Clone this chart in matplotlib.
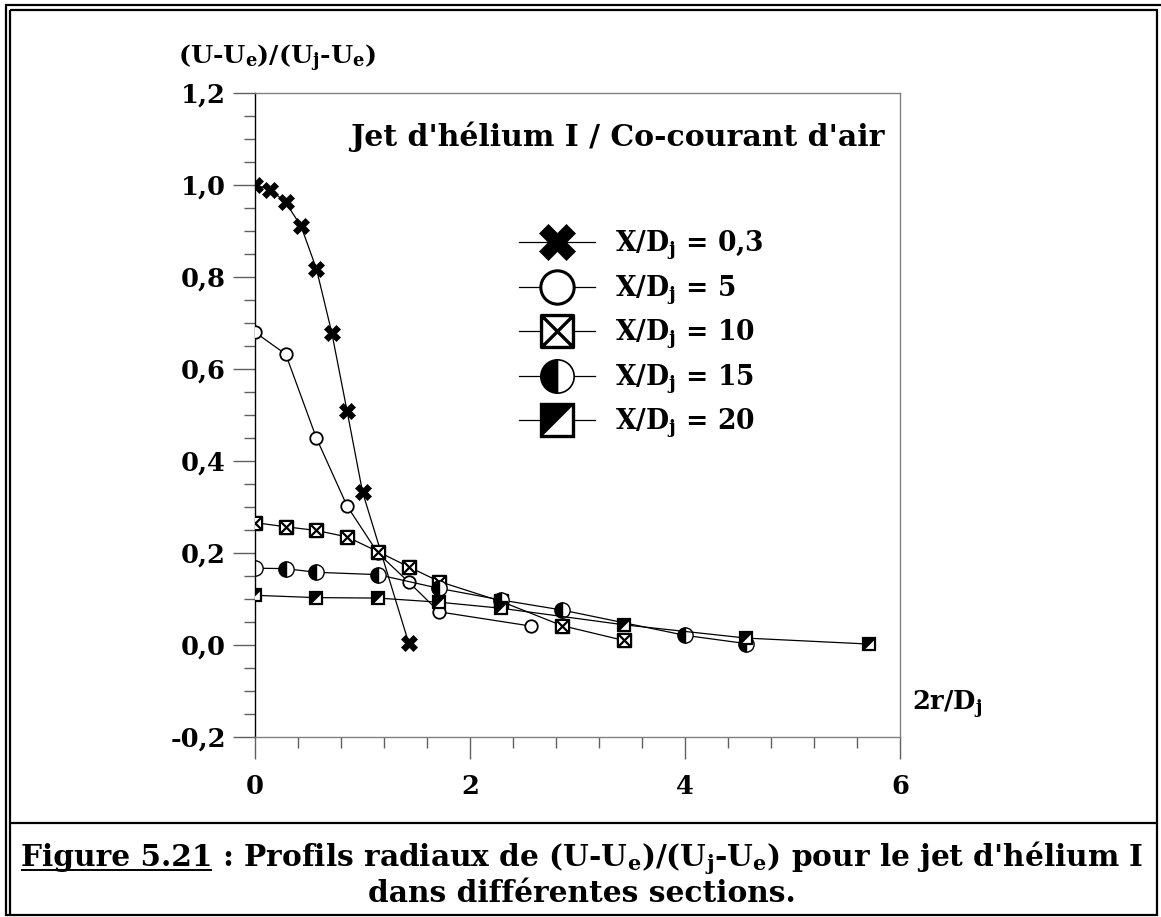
import matplotlib
matplotlib.use('Agg')
import matplotlib.pyplot as plt
from matplotlib.lines import Line2D
from matplotlib.path import Path
from matplotlib.legend_handler import HandlerTuple

plt.rcParams['font.family'] = 'DejaVu Serif'
plt.rcParams['font.weight'] = 'bold'
plt.rcParams['mathtext.fontset'] = 'dejavuserif'
plt.rcParams['mathtext.default'] = 'bf'

# ---------------- data ----------------
x_03 = [0, 0.143, 0.286, 0.429, 0.571, 0.714, 0.857, 1.0, 1.429]
y_03 = [1.0, 0.99, 0.962, 0.91, 0.818, 0.679, 0.508, 0.333, 0.005]
x_5 = [0, 0.286, 0.571, 0.857, 1.143, 1.429, 1.714, 2.571]
y_5 = [0.68, 0.632, 0.45, 0.302, 0.2, 0.137, 0.072, 0.041]
x_10 = [0, 0.286, 0.571, 0.857, 1.143, 1.429, 1.714, 2.286, 2.857, 3.429]
y_10 = [0.266, 0.257, 0.249, 0.235, 0.203, 0.17, 0.138, 0.095, 0.042, 0.01]
x_15 = [0, 0.286, 0.571, 1.143, 1.714, 2.286, 2.857, 4.0, 4.571]
y_15 = [0.167, 0.166, 0.158, 0.153, 0.123, 0.098, 0.076, 0.021, 0.003]
x_20 = [0, 0.571, 1.143, 1.714, 2.286, 3.429, 4.571, 5.714]
y_20 = [0.108, 0.103, 0.102, 0.093, 0.08, 0.044, 0.015, 0.002]

legend_labels = ['X/D$_\\mathbf{j}$ = 0,3', 'X/D$_\\mathbf{j}$ = 5', 'X/D$_\\mathbf{j}$ = 10',
                 'X/D$_\\mathbf{j}$ = 15', 'X/D$_\\mathbf{j}$ = 20']
x_ticks = [0, 2, 4, 6]
x_ticklabels = ['0', '2', '4', '6']
y_ticks = [-0.2, 0.0, 0.2, 0.4, 0.6, 0.8, 1.0, 1.2]
y_ticklabels = ['-0,2', '0,0', '0,2', '0,4', '0,6', '0,8', '1,0', '1,2']

title_text = "Jet d'hélium I / Co-courant d'air"
ylabel_text = '(U-U$_\\mathbf{e}$)/(U$_\\mathbf{j}$-U$_\\mathbf{e}$)'
xlabel_text = '2r/D$_\\mathbf{j}$'
cap_a = 'Figure 5.21'
cap_b = " : Profils radiaux de (U-U$_\\mathbf{e}$)/(U$_\\mathbf{j}$-U$_\\mathbf{e}$) pour le jet d'hélium I"
cap_2 = 'dans différentes sections.'

# ---------------- figure ----------------
W, H = 1161, 917
fig = plt.figure(figsize=(W / 100, H / 100), dpi=100)
fig.patch.set_facecolor('white')

def fx(px):
    return px / W

def fy(py):
    return 1 - py / H

ax = fig.add_axes([fx(255), fy(737), fx(900) - fx(255), fy(93) - fy(737)])
ax.set_xlim(0, 6)
ax.set_ylim(-0.2, 1.2)

# custom markers
boxx = Path([(-1, -1), (1, -1), (1, 1), (-1, 1), (-1, -1),
             (-1, -1), (1, 1), (-1, 1), (1, -1)],
            [Path.MOVETO, Path.LINETO, Path.LINETO, Path.LINETO, Path.CLOSEPOLY,
             Path.MOVETO, Path.LINETO, Path.MOVETO, Path.LINETO])
tri = Path([(-1, -1), (-1, 1), (1, 1), (-1, -1)],
           [Path.MOVETO, Path.LINETO, Path.LINETO, Path.CLOSEPOLY])

lw = 0.9
k = 'black'
# series
ax.plot(x_03, y_03, '-', color=k, lw=lw, marker='X', ms=11, mfc=k, mec=k, mew=0.5, zorder=3)
ax.plot(x_5, y_5, '-', color=k, lw=lw, marker='o', ms=9, mfc='white', mec=k, mew=1.3, zorder=3)
ax.plot(x_10, y_10, '-', color=k, lw=lw, marker=boxx, ms=9.5, mfc='white', mec=k, mew=1.6, zorder=3)
ax.plot(x_15, y_15, '-', color=k, lw=lw, marker='o', ms=11, fillstyle='left', mfc=k,
        markerfacecoloralt='white', mec=k, mew=1.0, zorder=3)
ax.plot(x_20, y_20, '-', color=k, lw=lw, marker='s', ms=8.5, mfc='white', mec=k, mew=1.6, zorder=3)
ax.plot(x_20, y_20, ' ', marker=tri, ms=8.5, mfc=k, mec=k, mew=0.5, zorder=3.1)

# legend handles
h1 = Line2D([], [], color=k, lw=lw, marker='X', ms=26, mfc=k, mec=k, mew=0.5)
h2 = Line2D([], [], color=k, lw=lw, marker='o', ms=24, mfc='white', mec=k, mew=2.2)
h3 = Line2D([], [], color=k, lw=lw, marker=boxx, ms=23, mfc='white', mec=k, mew=2.4)
h4 = Line2D([], [], color=k, lw=lw, marker='o', ms=24, fillstyle='left', mfc=k,
            markerfacecoloralt='white', mec=k, mew=1.2)
h5a = Line2D([], [], color=k, lw=lw, marker='s', ms=23, mfc='white', mec=k, mew=2.4)
h5b = Line2D([], [], ls='', marker=tri, ms=23, mfc=k, mec=k, mew=0.5)
fs_leg = 19.2
leg = fig.legend([h1, h2, h3, h4, (h5a, h5b)], legend_labels,
                 handler_map={tuple: HandlerTuple(ndivide=1)},
                 loc='upper left', bbox_to_anchor=(fx(519), fy(229)),
                 bbox_transform=fig.transFigure, frameon=False,
                 fontsize=fs_leg, handlelength=76 / (fs_leg * 100 / 72), handletextpad=0.75,
                 labelspacing=0.42, borderpad=0, borderaxespad=0)

# spines
for s in ['top', 'right', 'bottom']:
    ax.spines[s].set_color('#808080')
    ax.spines[s].set_linewidth(1.0)
ax.spines['left'].set_color('black')
ax.spines['left'].set_linewidth(1.0)

ax.set_xticks(x_ticks)
ax.set_xticklabels(x_ticklabels)
ax.set_yticks(y_ticks)
ax.set_yticklabels(y_ticklabels)
ax.set_xticks([v * 0.4 for v in range(16)], minor=True)
ax.set_yticks([-0.2 + v * 0.05 for v in range(29)], minor=True)
ax.tick_params(axis='both', which='major', direction='out', length=16, width=1.0,
               color='#606060', labelsize=18.5)
ax.tick_params(axis='both', which='minor', direction='out', length=8, width=1.0, color='#606060')
ax.tick_params(axis='y', which='major', pad=5)
ax.tick_params(axis='x', which='major', pad=11)
for t in ax.get_xticklabels() + ax.get_yticklabels():
    t.set_fontweight('bold')

# texts
fig.text(fx(885), fy(137), title_text, ha='right', va='center', fontsize=21.5, fontweight='bold')
fig.text(fx(178), fy(64), ylabel_text, ha='left', va='baseline', fontsize=18.3, fontweight='bold')
fig.text(fx(912), fy(710), xlabel_text, ha='left', va='baseline', fontsize=18.5, fontweight='bold')

# frame lines
def hline(y, x0, x1, lw_=1.6):
    fig.add_artist(Line2D([fx(x0), fx(x1)], [fy(y), fy(y)], color='black', lw=lw_,
                          transform=fig.transFigure, solid_capstyle='butt'))

def vline(x, y0, y1, lw_=1.6):
    fig.add_artist(Line2D([fx(x), fx(x)], [fy(y0), fy(y1)], color='black', lw=lw_,
                          transform=fig.transFigure, solid_capstyle='butt'))

hline(5, 5, 1161)
vline(6, 5, 916)
hline(10, 10, 1158)
vline(10, 10, 916)
vline(1157, 10, 916)
hline(915, 5, 1158)
hline(823, 10, 1157)

# caption
fs_cap = 21.3
ta = fig.text(0, fy(866), cap_a, ha='left', va='baseline', fontsize=fs_cap, fontweight='bold')
tb = fig.text(0, fy(866), cap_b, ha='left', va='baseline', fontsize=fs_cap, fontweight='bold')
t2 = fig.text(fx(582), fy(902), cap_2, ha='center', va='baseline', fontsize=fs_cap, fontweight='bold')
fig.canvas.draw()
r = fig.canvas.get_renderer()
wa = ta.get_window_extent(r).width
wb = tb.get_window_extent(r).width
x0 = 582 - (wa + wb) / 2
ta.set_x(fx(x0))
tb.set_x(fx(x0 + wa))
hline(870, x0, x0 + wa, lw_=1.4)

fig.savefig('out.png', dpi=100, facecolor='white')
